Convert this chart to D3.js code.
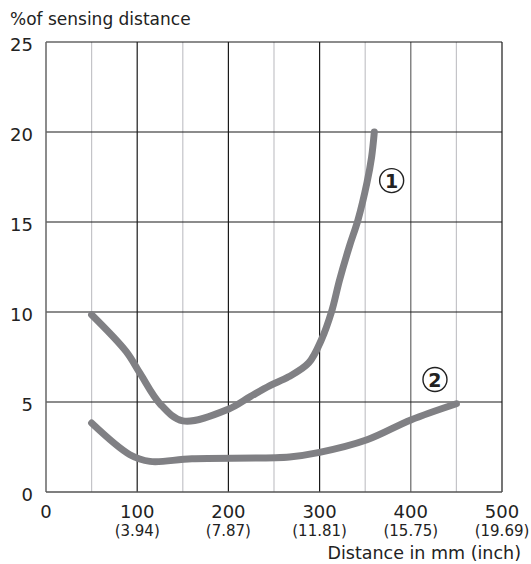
<!DOCTYPE html>
<html>
<head>
<meta charset="utf-8">
<script src="https://cdn.jsdelivr.net/npm/d3@7"></script>
<style>
  body { margin: 0; background: #fff; }
  text { font-family: "DejaVu Sans", sans-serif; fill: #222; }
</style>
</head>
<body>
<svg id="chart" width="531" height="564"></svg>
<script>
// tick values and labels
let xTicks = [0, 100, 200, 300, 400, 500];
let xInch = ['', '(3.94)', '(7.87)', '(11.81)', '(15.75)', '(19.69)'];
let xMinor = [50, 150, 250, 350, 450];
let yTicks = [0, 5, 10, 15, 20, 25];

// curve 1 and curve 2: [distance mm, % of sensing distance]
let curve1 = [[50, 9.85], [88, 7.8], [103, 6.6], [125, 4.9], [150, 3.95], [200, 4.6],
  [224, 5.3], [245, 5.9], [266, 6.4], [288, 7.17], [302, 8.46], [313, 10.0],
  [322, 11.8], [333, 13.7], [342, 15.1], [352, 17.2], [357, 18.6], [360, 20]];
let curve2 = [[50, 3.83], [92, 2.07], [114, 1.7], [160, 1.85], [267, 1.95], [300, 2.2],
  [352, 2.9], [400, 4.0], [450, 4.9]];
let curveLabels = [{t: '1', x: 379, y: 17.3}, {t: '2', x: 426.5, y: 6.25}];

let svg = d3.select('svg#chart');
let pLeft = 46, pRight = 502, pTop = 42, pBottom = 492;

let x = d3.scaleLinear().domain([0, 500]).range([pLeft, pRight]);
let y = d3.scaleLinear().domain([0, 25]).range([pBottom, pTop]);

// minor vertical grid
svg.append('g').selectAll('line')
  .data(xMinor).enter().append('line')
  .attr('x1', d => x(d)).attr('x2', d => x(d))
  .attr('y1', pTop).attr('y2', pBottom)
  .attr('stroke', '#c4c4c8').attr('stroke-width', 1.2);

// major vertical grid
svg.append('g').selectAll('line')
  .data(xTicks.slice(1)).enter().append('line')
  .attr('x1', d => x(d)).attr('x2', d => x(d))
  .attr('y1', pTop).attr('y2', pBottom)
  .attr('stroke', d => d === 400 ? '#666' : '#1a1a1a').attr('stroke-width', 1.2);

// horizontal grid
svg.append('g').selectAll('line')
  .data(yTicks.slice(1)).enter().append('line')
  .attr('x1', pLeft).attr('x2', pRight)
  .attr('y1', d => y(d)).attr('y2', d => y(d))
  .attr('stroke', '#1a1a1a').attr('stroke-width', 1.2);

// axes lines
svg.append('line').attr('x1', pLeft).attr('x2', pLeft).attr('y1', pTop).attr('y2', pBottom)
  .attr('stroke', '#666').attr('stroke-width', 1.5);
svg.append('line').attr('x1', pLeft).attr('x2', pRight).attr('y1', pBottom).attr('y2', pBottom)
  .attr('stroke', '#555').attr('stroke-width', 1.5);

// curves
let line = d3.line()
  .x(d => x(d[0]))
  .y(d => y(d[1]))
  .curve(d3.curveCatmullRom.alpha(0.5));

[curve1, curve2].forEach(c => {
  svg.append('path')
    .datum(c)
    .attr('d', line)
    .attr('fill', 'none')
    .attr('stroke', '#808084')
    .attr('stroke-width', 7)
    .attr('stroke-linecap', 'round')
    .attr('stroke-linejoin', 'round');
});

// circled curve labels
let lab = svg.append('g').selectAll('g')
  .data(curveLabels).enter().append('g')
  .attr('transform', d => `translate(${x(d.x)}, ${y(d.y)})`);
lab.append('circle')
  .attr('r', 12)
  .attr('fill', '#fff')
  .attr('stroke', '#222')
  .attr('stroke-width', 1.4);
lab.append('text')
  .attr('text-anchor', 'middle')
  .attr('dy', '0.37em')
  .attr('font-size', 19)
  .attr('font-weight', 'bold')
  .text(d => d.t);

// y tick labels
svg.append('g').selectAll('text')
  .data(yTicks).enter().append('text')
  .attr('x', 33)
  .attr('y', d => y(d) + 9)
  .attr('text-anchor', 'end')
  .attr('font-size', 18)
  .text(d => d);

// x tick labels
svg.append('g').selectAll('text')
  .data(xTicks).enter().append('text')
  .attr('x', d => x(d))
  .attr('y', 518)
  .attr('text-anchor', 'middle')
  .attr('font-size', 18)
  .text(d => d);

svg.append('g').selectAll('text')
  .data(xTicks).enter().append('text')
  .attr('x', d => x(d))
  .attr('y', 536)
  .attr('text-anchor', 'middle')
  .attr('font-size', 15)
  .text((d, i) => xInch[i]);

// axis titles
svg.append('text')
  .attr('x', 10)
  .attr('y', 25)
  .attr('font-size', 17)
  .text('%of sensing distance');

svg.append('text')
  .attr('x', 521)
  .attr('y', 559)
  .attr('text-anchor', 'end')
  .attr('font-size', 17.5)
  .text('Distance in mm (inch)');
</script>
</body>
</html>
